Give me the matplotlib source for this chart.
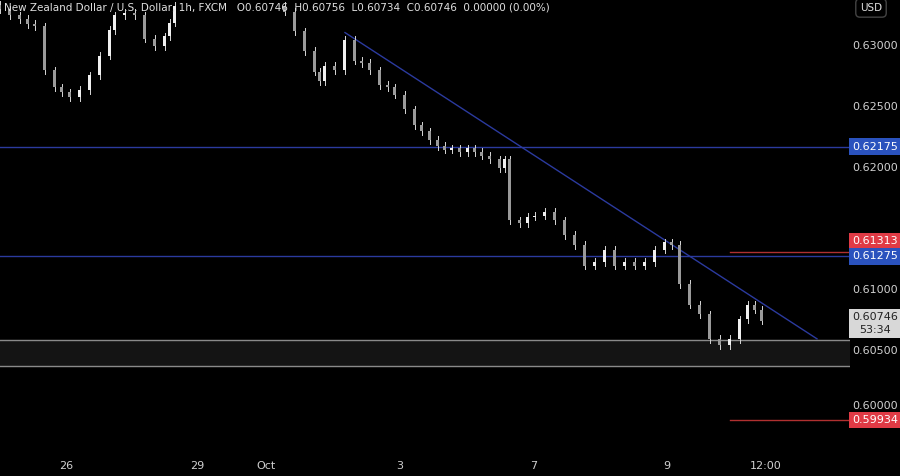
import matplotlib.pyplot as plt
from matplotlib.transforms import blended_transform_factory

# candle positions (chart x) and closes
xs = [0, 10, 20, 28, 35, 45, 55, 62, 70, 80, 90, 100, 110, 115, 125, 135, 145, 155, 165, 170, 175,
      285, 295, 305, 315, 320, 325, 335, 345, 355, 362, 370, 380, 388, 395, 405, 415, 422, 430, 438,
      445, 452, 460, 468, 475, 482, 490, 500, 505, 510, 520, 528, 535, 545, 555, 565, 575, 585, 595,
      605, 615, 625, 635, 645, 655, 665, 672, 680, 690, 700, 710, 720, 730, 740, 748, 755, 762]
closes = [0.6330, 0.6325, 0.6322, 0.6318, 0.6316, 0.6280, 0.6266, 0.6262, 0.6258, 0.6264, 0.6276,
          0.6292, 0.6313, 0.6325, 0.6327, 0.6325, 0.6306, 0.6300, 0.6308, 0.6319, 0.6333,
          0.6328, 0.6312, 0.6296, 0.6279, 0.6271, 0.6284, 0.6280, 0.6305, 0.6288, 0.6286, 0.6280,
          0.6268, 0.6266, 0.6260, 0.6248, 0.6235, 0.6230, 0.6223, 0.6218, 0.6215, 0.6216, 0.6213,
          0.6216, 0.6213, 0.6210, 0.6207, 0.6200, 0.6207, 0.6157, 0.6155, 0.6160, 0.6161, 0.6164,
          0.6157, 0.6145, 0.6137, 0.6120, 0.6123, 0.6133, 0.6120, 0.6123, 0.6120, 0.6123, 0.6133,
          0.6139, 0.6137, 0.6105, 0.6088, 0.6080, 0.6060, 0.6055, 0.6060, 0.6076, 0.6088, 0.6084,
          0.6075]
hlines_blue = [0.62175, 0.61275]
red_levels = [0.61313, 0.59934]
zone = (0.6038, 0.6059)
trend = ([345, 817], [0.6311, 0.6060])
yticks = [0.630, 0.625, 0.620, 0.610, 0.605, 0.600]
xlabels = [(66, '26'), (197, '29'), (266, 'Oct'), (400, '3'), (534, '7'), (667, '9'), (766, '12:00')]
last = 0.60746

bg = '#000000'
fig = plt.figure(figsize=(9, 4.76), dpi=100, facecolor=bg)
ax = fig.add_axes([0, 21 / 476, 850 / 900, 455 / 476])
ax.set_facecolor(bg)
ax.set_xlim(0, 850)
ax.set_ylim(0.59648, 0.63377)
for s in ax.spines.values():
    s.set_visible(False)
ax.set_xticks([])
ax.set_yticks([])

ax.axhspan(zone[0], zone[1], color='#141414', zorder=0)
for v in zone:
    ax.axhline(v, color='#8a8a8a', lw=1, zorder=1)
for v in hlines_blue:
    ax.axhline(v, color='#2b3a9e', lw=1, zorder=1)
for v in red_levels:
    ax.plot([730, 850], [v, v], color='#b03030', lw=1, zorder=1)
ax.plot(trend[0], trend[1], color='#2b3a9e', lw=1, zorder=2)

prev = closes[0] + 0.0004
for x, c in zip(xs, closes):
    o = prev
    hi, lo = max(o, c) + 0.0003, min(o, c) - 0.0003
    ax.plot([x, x], [lo, hi], color='#d8d8d8', lw=0.7, zorder=3)
    col = '#f0f0f0' if c >= o else '#9a9a9a'
    ax.bar(x, max(abs(c - o), 0.00004), bottom=min(o, c), width=3, color=col, zorder=4)
    prev = c

tr = blended_transform_factory(fig.transFigure, ax.transData)
for v in yticks:
    # the 0.60000 label sits just above the red badge, as in the reference
    yv = v + 0.0005 if v == 0.600 else v
    fig.text(875 / 900, yv, f'{v:.5f}', transform=tr, color='#d0d0d0', fontsize=8,
             ha='center', va='center', zorder=1)

def badge(v, text, fc, tc='white'):
    return fig.text(875 / 900, v, text, transform=tr, color=tc, fontsize=8, ha='center',
                    va='center', zorder=5,
                    bbox=dict(boxstyle='square,pad=0.3', fc=fc, ec='none'))

badge(0.62175, '0.62175', '#2a52be')
badge(0.61400, '0.61313', '#e03a45')
badge(0.61275, '0.61275', '#2a52be')
badge(0.59934, '0.59934', '#e03a45')
fig.text(875 / 900, last - 0.0002, '0.60746\n53:34', transform=tr, color='#222222', fontsize=8,
         ha='center', va='center', linespacing=1.3, zorder=5,
         bbox=dict(boxstyle='square,pad=0.3', fc='#d8d8d8', ec='none'))

for x, lab in xlabels:
    fig.text(x / 900, 1 - 466 / 476, lab, color='#d0d0d0', fontsize=8, ha='center', va='center')

fig.text(4 / 900, 1 - 7 / 476,
         'New Zealand Dollar / U.S. Dollar, 1h, FXCM   O0.60746  H0.60756  L0.60734  C0.60746  0.00000 (0.00%)',
         color='#e0e0e0', fontsize=7.5, ha='left', va='center')
fig.text(871 / 900, 1 - 8 / 476, 'USD', color='#e0e0e0', fontsize=7.5, ha='center', va='center',
         bbox=dict(boxstyle='round,pad=0.4', fc='#000000', ec='#444444'))

fig.savefig('out.png', dpi=100, facecolor=bg)
